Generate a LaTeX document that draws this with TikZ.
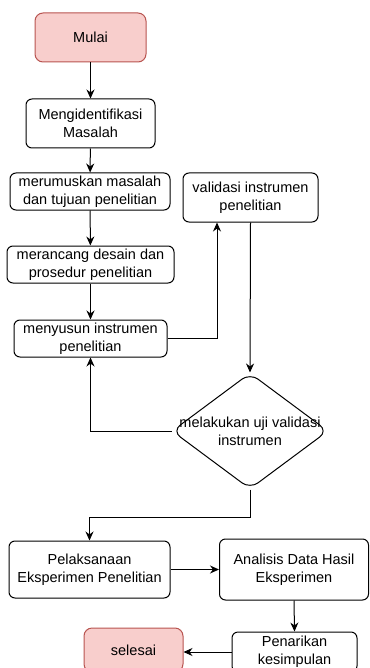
\documentclass[tikz,border=0pt]{standalone}
\usepackage{fontspec}
\setmainfont{Liberation Sans}
\usetikzlibrary{arrows.meta,shapes.geometric}
\definecolor{merahisi}{HTML}{F8CECC}
\definecolor{merahrand}{HTML}{B85450}
\tikzset{
	kotak/.style={draw=black, fill=white, line width=1pt, rounded corners=6pt, align=center, inner sep=1pt},
	ujung/.style={kotak, draw=merahrand, fill=merahisi, rounded corners=8pt},
	keputusan/.style={diamond, draw=black, line width=1pt, rounded corners=10pt, inner sep=0pt},
	panah/.style={line width=1pt, -{Stealth[length=9pt,width=8pt]}}
}
\begin{document}
\begin{tikzpicture}[x=1pt, y=-1pt, font=\fontsize{14.5}{18.3}\selectfont]
	\clip (0,0) rectangle (369,668);
	% Ablauf links
	\node[ujung, minimum width=111pt, minimum height=49pt] (mulai) at (90.5,37.5) {Mulai};
	\node[kotak, minimum width=129pt, minimum height=49pt] (identifikasi) at (90.5,123.5) {Mengidentifikasi\\Masalah};
	\node[kotak, minimum width=160pt, minimum height=37pt] (rumus) at (90,191.5) {merumuskan masalah\\dan tujuan penelitian};
	\node[kotak, minimum width=167pt, minimum height=37pt] (rancang) at (90.5,264.5) {merancang desain dan\\prosedur penelitian};
	\node[kotak, minimum width=153pt, minimum height=37pt] (susun) at (90.5,338.5) {menyusun instrumen\\penelitian};
	% Validierung rechts
	\node[kotak, minimum width=135pt, minimum height=49pt] (validasi) at (250.5,197.5) {validasi instrumen\\penelitian};
	\node[keputusan, minimum width=156pt, minimum height=116pt] (uji) at (250,431) {};
	\node[align=center] (ujiteks) at (uji) {melakukan uji validasi\\instrumen};
	% Durchfuehrung unten
	\node[kotak, minimum width=161pt, minimum height=57pt] (laksana) at (89.5,569.5) {Pelaksanaan\\Eksperimen Penelitian};
	\node[kotak, minimum width=149pt, minimum height=61pt] (analisis) at (294,569.5) {Analisis Data Hasil\\Eksperimen};
	\node[kotak, minimum width=125pt, minimum height=40pt] (tarik) at (294.5,652) {Penarikan\\kesimpulan};
	\node[ujung, minimum width=99pt, minimum height=44pt] (selesai) at (133.5,650) {selesai};
	% Pfeile
	\draw[panah] (mulai) -- (identifikasi);
	\draw[panah] (identifikasi) -- (rumus);
	\draw[panah] (rumus) -- (rancang);
	\draw[panah] (rancang) -- (susun);
	\draw[panah] (susun.east) -| ([xshift=-33.5pt]validasi.south);
	\draw[panah] (validasi.south) -- (uji.north);
	\draw[panah] (uji.west) -| (susun.south);
	\draw[panah] (uji.south) -- ++(0,28) -| (laksana.north);
	\draw[panah] (laksana.east) -- (analisis.west);
	\draw[panah] (analisis.south) -- (tarik.north);
	\draw[panah] (tarik.west) -- (tarik.west -| selesai.east);
\end{tikzpicture}
\end{document}
